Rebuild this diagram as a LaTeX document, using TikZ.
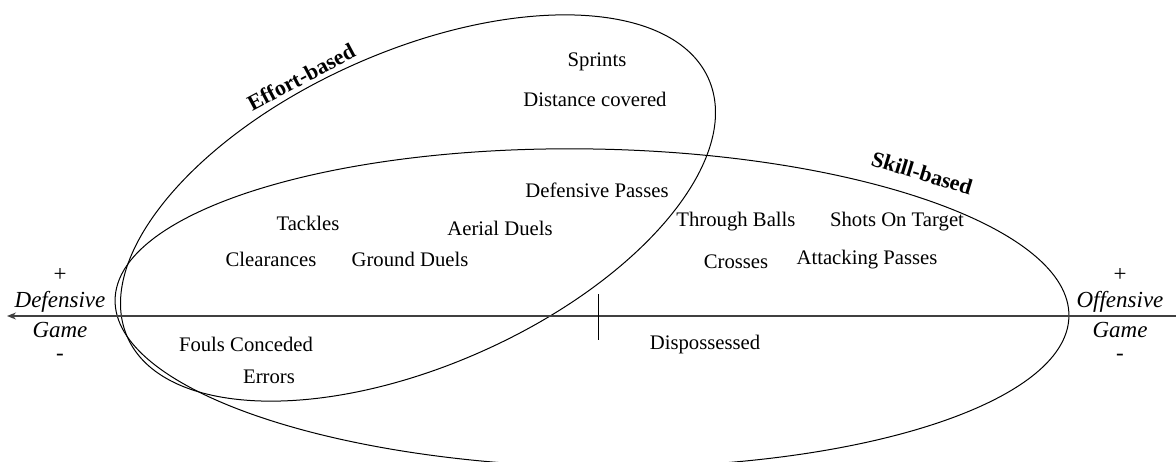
\documentclass[tikz,border=0pt]{standalone}
\usepackage{fontspec}
\setmainfont{Liberation Serif}
\usetikzlibrary{shapes.geometric, arrows.meta}
\tikzset{%
  every set/.style={
    ellipse,
    draw,
    line width=1pt,
    inner sep=0pt
  },
  set label/.style={
    font=\fontsize{22}{26}\selectfont\bfseries
  },
  every item/.style={
    font=\fontsize{20.7}{24}\selectfont
  },
  side/.style={
    font=\fontsize{23}{27}\selectfont
  },
}

\begin{document}
\begin{tikzpicture}[x=1pt, y=-1pt, >={Stealth[length=9pt, width=7pt]}]
\useasboundingbox (0,0) rectangle (1176,461);

\node [every set, minimum width=954pt, minimum height=318pt, rotate=-1] (skill) at (592,308) {};
\node [every set, minimum width=636pt, minimum height=314pt, rotate=24] (effort) at (418,208) {};

\node [set label, rotate=28] (effort-label) at (301,77) {Effort-based};
\node [set label, rotate=-17] (skill-label) at (922,173) {Skill-based};

\coordinate (axis-r) at (1176,316);
\coordinate (axis-l) at (7,316);
\coordinate (tick) at (598,316);
\draw [->, line width=1.2pt, black!75] (axis-r) -- (axis-l);
\draw [line width=1pt] ([yshift=22pt]tick) -- ([yshift=-24pt]tick);

\foreach \t/\x/\y [count=\i] in {Sprints/597/62, Distance covered/595/99,
    Defensive Passes/597/190, Tackles/308/223, Aerial Duels/500/228,
    Clearances/271/259, Ground Duels/410/259, Through Balls/736/222,
    Shots On Target/897/222, Crosses/736/262, Attacking Passes/867/260,
    Fouls Conceded/246/344, Errors/269/377, Dispossessed/705/345}
  \node [every item] (item-\i) at (\x,\y) {\t};

\foreach \x/\w [count=\s] in {60/Defensive, 1120/Offensive} {
  \node [side] (plus-\s) at (\x,275) {+};
  \node [side] (side-\s) at (\x,302) {\itshape \w};
  \node [side] (game-\s) at (\x,330) {\itshape Game};
  \node [side] (minus-\s) at (\x,357) {-};
}
\end{tikzpicture}
\end{document}
